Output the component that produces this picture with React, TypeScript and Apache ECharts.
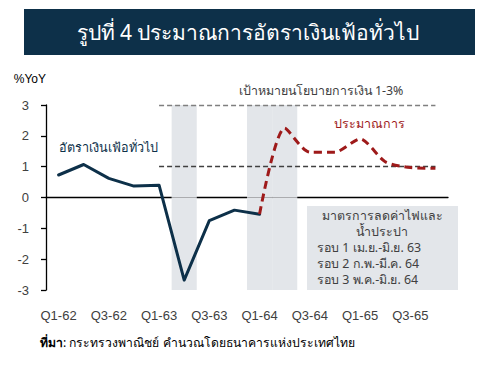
import React, { useEffect, useRef } from "react";
import * as echarts from "echarts";

const categories = [
  "Q1-62", "Q2-62", "Q3-62", "Q4-62",
  "Q1-63", "Q2-63", "Q3-63", "Q4-63",
  "Q1-64", "Q2-64", "Q3-64", "Q4-64",
  "Q1-65", "Q2-65", "Q3-65", "Q4-65",
];
const actual = [0.73, 1.07, 0.62, 0.37, 0.4, -2.68, -0.75, -0.41, -0.54, null, null, null, null, null, null, null];
const forecast = [null, null, null, null, null, null, null, null, -0.54, 2.25, 1.47, 1.47, 1.9, 1.16, 0.97, 0.95];
const bandCategories = ["Q2-63", "Q1-64", "Q2-64"];
const targetLow = 1;
const targetHigh = 3;
const yTicks = [-3, -2, -1, 0, 1, 2, 3];

const titleText = "รูปที่ 4 ประมาณการอัตราเงินเฟ้อทั่วไป";
const targetLabel = "เป้าหมายนโยบายการเงิน 1-3%";
const forecastLabel = "ประมาณการ";
const actualLabel = "อัตราเงินเฟ้อทั่วไป";
const noteTitle = ["มาตรการลดค่าไฟและ", "น้ำประปา"];
const noteRounds = ["รอบ 1 เม.ย.-มิ.ย. 63", "รอบ 2 ก.พ.-มี.ค. 64", "รอบ 3 พ.ค.-มิ.ย. 64"];
const sourceBold = "ที่มา";
const sourceRest = ": กระทรวงพาณิชย์ คำนวณโดยธนาคารแห่งประเทศไทย";

const FONT = "Tahoma, 'Noto Sans', 'DejaVu Sans', sans-serif";
const LATIN = "Arial, 'Liberation Sans', sans-serif";
const NAVY = "#0d3049";
const RED = "#9e1a1a";
const GRAY_BG = "#e3e6ea";
const TXT = "#404040";

export default function App() {
  const ref = useRef<HTMLDivElement>(null);
  useEffect(() => {
    if (!ref.current) return;
    const chart = echarts.init(ref.current, undefined, { renderer: "svg" });
    const bandUp = categories.map((c) => (bandCategories.includes(c) ? yTicks[yTicks.length - 1] : null));
    const bandDown = categories.map((c) => (bandCategories.includes(c) ? yTicks[0] : null));
    chart.setOption({
      animation: false,
      textStyle: { fontFamily: FONT },
      grid: { left: 46, right: 52, top: 105, bottom: 76 },
      xAxis: [
        {
          type: "category",
          data: categories,
          boundaryGap: true,
          axisLine: { onZero: true, lineStyle: { color: "#000", width: 1.3 } },
          axisTick: { interval: 1, length: 5, lineStyle: { color: "#000", width: 1.3 } },
          axisLabel: { show: false },
          splitLine: { show: false },
        },
        {
          type: "category",
          data: categories,
          position: "bottom",
          boundaryGap: true,
          axisLine: { show: false, onZero: false },
          axisTick: { show: false },
          axisLabel: { interval: 1, color: TXT, fontSize: 13, fontFamily: LATIN, margin: 19 },
          splitLine: { show: false },
        },
      ],
      yAxis: {
        type: "value",
        min: yTicks[0],
        max: yTicks[yTicks.length - 1],
        interval: 1,
        name: "%YoY",
        nameLocation: "end",
        nameGap: 20,
        nameTextStyle: { align: "right", color: "#000", fontSize: 12, fontFamily: LATIN },
        axisLine: { show: true, lineStyle: { color: "#000", width: 1.3 } },
        axisTick: { show: true, length: 5, lineStyle: { color: "#000", width: 1.3 } },
        axisLabel: { color: TXT, fontSize: 13, fontFamily: LATIN, margin: 17 },
        splitLine: { show: false },
      },
      series: [
        {
          type: "bar",
          stack: "band",
          data: bandUp,
          barWidth: "100%",
          itemStyle: { color: GRAY_BG },
          z: 1,
          silent: true,
        },
        {
          type: "bar",
          stack: "band",
          data: bandDown,
          barWidth: "100%",
          itemStyle: { color: GRAY_BG },
          z: 1,
          silent: true,
        },
        {
          type: "line",
          data: actual,
          symbol: "none",
          lineStyle: { color: NAVY, width: 3, join: "round", cap: "round" },
          z: 5,
          markLine: {
            symbol: "none",
            silent: true,
            label: { show: false },
            data: [
              [
                { coord: ["Q1-63", targetHigh], lineStyle: { color: "#7f7f7f", type: [5, 3], width: 1.3 } },
                { coord: ["Q4-65", targetHigh] },
              ],
              [
                { coord: ["Q1-63", targetLow], lineStyle: { color: "#404040", type: [5, 3], width: 1.3 } },
                { coord: ["Q4-65", targetLow] },
              ],
            ],
          },
        },
        {
          type: "line",
          data: forecast,
          symbol: "none",
          smooth: 0.25,
          lineStyle: { color: RED, width: 3, type: [8, 5], cap: "butt" },
          z: 6,
        },
      ],
      graphic: [
        { type: "rect", shape: { x: 24, y: 9, width: 451, height: 46 }, style: { fill: NAVY } },
        {
          type: "text",
          x: 248,
          y: 32,
          style: { text: titleText, fill: "#fff", font: `21px ${FONT}`, align: "center", verticalAlign: "middle" },
        },
        {
          type: "text",
          x: 321,
          y: 90,
          style: { text: targetLabel, fill: TXT, font: `12.4px ${FONT}`, align: "center", verticalAlign: "middle" },
        },
        {
          type: "text",
          x: 369,
          y: 123,
          style: { text: forecastLabel, fill: RED, font: `12.5px ${FONT}`, align: "center", verticalAlign: "middle" },
        },
        {
          type: "text",
          x: 108,
          y: 147,
          style: { text: actualLabel, fill: NAVY, font: `12.6px ${FONT}`, align: "center", verticalAlign: "middle" },
        },
        { type: "rect", shape: { x: 307, y: 206, width: 151, height: 84 }, style: { fill: GRAY_BG }, z: 0 },
        ...noteTitle.map((t, i) => ({
          type: "text",
          x: 382,
          y: 215 + i * 16,
          style: { text: t, fill: TXT, font: `12.4px ${FONT}`, align: "center", verticalAlign: "middle" },
        })),
        ...noteRounds.map((t, i) => ({
          type: "text",
          x: 317,
          y: 247 + i * 16,
          style: { text: t, fill: TXT, font: `12.4px ${FONT}`, align: "left", verticalAlign: "middle" },
        })),
        {
          type: "text",
          x: 40,
          y: 342,
          style: {
            text: `{b|${sourceBold}}{r|${sourceRest}}`,
            verticalAlign: "middle",
            rich: {
              b: { fontWeight: "bold", fontSize: 12.2, fill: "#000", fontFamily: FONT },
              r: { fontSize: 12.2, fill: "#000", fontFamily: FONT },
            },
          },
        },
      ],
    });
    return () => chart.dispose();
  }, []);
  return <div ref={ref} style={{ width: 500, height: 366, position: "absolute", left: 0, top: 0 }} />;
}
